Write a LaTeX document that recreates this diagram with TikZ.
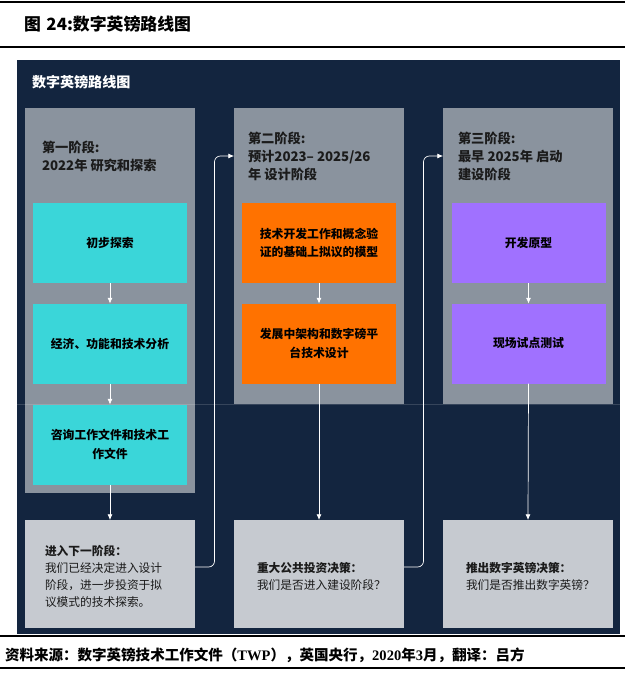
\documentclass[tikz,border=0pt]{standalone}
\usepackage{fontspec}
\setmainfont{Noto Sans CJK SC}
\newfontfamily\tnr{Liberation Serif}
\usepackage{xcolor}
\usepackage{tikz}
\usetikzlibrary{arrows.meta,calc}

\definecolor{navy}{HTML}{13253F}
\definecolor{phasegray}{HTML}{8A939E}
\definecolor{taskcyan}{HTML}{3AD6D9}
\definecolor{taskorange}{HTML}{FF7200}
\definecolor{taskpurple}{HTML}{A071FF}
\definecolor{gatefill}{HTML}{C6CAD0}
\definecolor{labeltext}{HTML}{1B1B1B}

\begin{document}
\begin{tikzpicture}[
  x=0.03cm,y=-0.03cm,
  >=Latex,
  every node/.style={inner sep=0pt,outer sep=0pt},
  flow/.style={-{Latex[length=1.7mm,width=1.5mm]},draw=white,line width=0.6pt},
  loopback/.style={-{Latex[length=1.7mm,width=1.5mm]},draw=white,line width=0.6pt,
                   rounded corners=5pt},
  rule/.style={line width=0.9pt,black},
  phase/.style={fill=phasegray,minimum width=5.1cm},
  phaselabel/.style={anchor=west,align=left,text=labeltext,
                     font=\fontsize{11.3}{15.3}\selectfont\bfseries},
  task/.style={minimum width=4.62cm,minimum height=2.4cm,align=center,text=black,
               font=\fontsize{10.1}{15.5}\selectfont\bfseries},
  gate/.style={fill=gatefill,minimum width=5.1cm,minimum height=3.24cm},
  gatetext/.style={anchor=west,align=left,text=labeltext,
                   font=\fontsize{10}{14.5}\selectfont}
]
  \useasboundingbox (0,0) rectangle (625,675);
  \fill[white] (0,0) rectangle (625,675);

  % heading and rules
  \draw[rule] (0,2) -- (625,2);
  \draw[rule] (0,47) -- (625,47);
  \node[anchor=west,font=\fontsize{14.4}{16}\selectfont\bfseries] (fig) at (24,24)
    {图\,\,24:数字英镑路线图};

  % dark panel
  \fill[navy] (17,60) rectangle (620,634);
  \node[anchor=west,text=white,font=\fontsize{12}{14}\selectfont\bfseries]
    (roadmap) at (32,82) {数字英镑路线图};

  % phase columns
  \node[phase,minimum height=11.55cm] (phase1) at (110,300.5) {};
  \node[phase,minimum height=8.88cm] (phase2) at (319,256) {};
  \node[phase,minimum height=8.88cm] (phase3) at (528,256) {};

  \draw[white,opacity=0.15,line width=0.5pt] (17,404) -- (620,404);

  \node[phaselabel] (lab1) at (42,156) {第一阶段:\\2022年 研究和探索};
  \node[phaselabel] (lab2) at (248,156) {第二阶段:\\预计2023– 2025/26\\年 设计阶段};
  \node[phaselabel] (lab3) at (458,156) {第三阶段:\\最早 2025年 启动\\建设阶段};

  % tasks
  \node[task,fill=taskcyan] (t11) at (110,243) {初步探索};
  \node[task,fill=taskcyan] (t12) at (110,343.5) {经济、功能和技术分析};
  \node[task,fill=taskcyan] (t13) at (110,444.5) {咨询工作文件和技术工\\作文件};

  \node[task,fill=taskorange] (t21) at (319,243) {技术开发工作和概念验\\证的基础上拟议的模型};
  \node[task,fill=taskorange] (t22) at (319,343.5) {发展中架构和数字磅平\\台技术设计};

  \node[task,fill=taskpurple] (t31) at (528.5,243) {开发原型};
  \node[task,fill=taskpurple] (t32) at (528.5,343.5) {现场试点测试};

  % decision gates
  \node[gate] (gate1) at (110,574) {};
  \node[gate] (gate2) at (319,574) {};
  \node[gate] (gate3) at (528,574) {};

  \node[gatetext] (gtx1) at (45,576)
    {\textbf{进入下一阶段：}\\我们已经决定进入设计\\阶段，进一步投资于拟\\议模式的技术探索。};
  \node[gatetext] (gtx2) at (257,576)
    {\textbf{重大公共投资决策：}\\我们是否进入建设阶段？};
  \node[gatetext] (gtx3) at (466,576)
    {\textbf{推出数字英镑决策：}\\我们是否推出数字英镑？};

  % arrows
  \draw[flow] (t11.south) -- (t12.north);
  \draw[flow] (t12.south) -- (t13.north);
  \draw[flow] (t13.south) -- (gate1.north);
  \draw[flow] (t21.south) -- (t22.north);
  \draw[flow] (t22.south) -- (gate2.north);
  \draw[flow] (t31.south) -- (t32.north);
  \draw[flow] (t32.south) -- (gate3.north);

  \draw[loopback] ([yshift=0.21cm]gate1.east)
    -| ($(phase1.east)!0.5!(phase2.west)$) |- (phase2.west |- lab2.west);
  \draw[loopback] ([yshift=0.21cm]gate2.east)
    -| ($(phase2.east)!0.5!(phase3.west)$) |- (phase3.west |- lab3.west);

  % source line
  \draw[rule] (0,636) -- (625,636);
  \node[anchor=west,font=\fontsize{12.4}{14}\selectfont\bfseries] (src) at (5,655)
    {资料来源：数字英镑技术工作文件（{\tnr TWP}），英国央行，{\tnr 2020}年{\tnr 3}月，翻译：吕方};
  \draw[rule] (0,668) -- (625,668);
\end{tikzpicture}
\end{document}
